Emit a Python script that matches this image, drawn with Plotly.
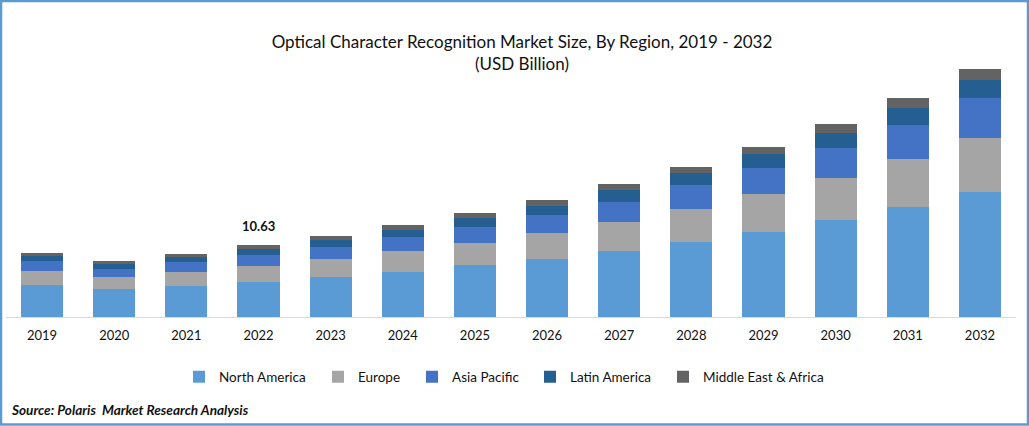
# plot.py - OCR market size stacked bars
import plotly.graph_objects as go

years = [str(y) for y in range(2019, 2033)]

north_america = [4.72, 4.13, 4.58, 5.17, 5.90, 6.64, 7.68, 8.56, 9.74, 11.07, 12.55, 14.32, 16.24, 18.45]
europe = [2.07, 1.77, 2.07, 2.36, 2.66, 3.10, 3.25, 3.84, 4.28, 4.87, 5.61, 6.20, 7.08, 7.97]
asia_pacific = [1.48, 1.18, 1.48, 1.62, 1.77, 2.07, 2.36, 2.66, 2.95, 3.54, 3.84, 4.43, 5.02, 5.90]
latin_america = [0.74, 0.74, 0.74, 0.89, 1.03, 1.03, 1.33, 1.33, 1.77, 1.77, 2.07, 2.21, 2.51, 2.66]
middle_east = [0.44, 0.44, 0.44, 0.59, 0.59, 0.74, 0.74, 0.89, 0.89, 0.89, 1.03, 1.33, 1.48, 1.62]

series = [
    ("North America", north_america, "#5B9BD5"),
    ("Europe", europe, "#A5A5A5"),
    ("Asia Pacific", asia_pacific, "#4472C4"),
    ("Latin America", latin_america, "#255E91"),
    ("Middle East & Africa", middle_east, "#636363"),
]

FONT = "Lato"
TEXT = "#111111"
W, H = 1029, 426
L, R, T, B = 6, 13, 20, 109
plot_w, plot_h = W - L - R, H - T - B

# pixel x where each legend label starts, legends are separate to keep the uneven spacing
legend_text_x = [219, 358, 452, 570, 703]


def px_x(px):
    return (px - L) / plot_w


def px_y(px):
    return (T + plot_h - px) / plot_h


fig = go.Figure()
legends = {}
for i, (name, values, color) in enumerate(series):
    key = "legend" if i == 0 else f"legend{i + 1}"
    fig.add_trace(go.Bar(x=years, y=values, name=name, legend=key,
                         marker=dict(color=color, line_width=0)))
    legends[key] = dict(x=px_x(legend_text_x[i] - 40), xanchor="left", y=px_y(377), yanchor="middle",
                        bgcolor="rgba(0,0,0,0)", font=dict(family=FONT, size=13.5, color=TEXT))

i_2022 = years.index("2022")
total_2022 = sum(s[1][i_2022] for s in series)
fig.add_annotation(x=i_2022, y=total_2022, yref="y", text="<b>10.63</b>", showarrow=False,
                   yanchor="bottom", yshift=9, font=dict(family=FONT, size=13, color=TEXT))
fig.add_annotation(x=px_x(11), y=px_y(410), xref="paper", yref="paper",
                   text="<b><i>Source: Polaris  Market Research Analysis</i></b>", showarrow=False,
                   xanchor="left", yanchor="middle", xshift=-2, font=dict(family=FONT, size=13.6, color=TEXT))

# blue frame round the whole picture
fig.add_shape(type="rect", xref="paper", yref="paper", layer="below",
              x0=px_x(1), x1=px_x(W - 1), y0=px_y(H - 1.5), y1=px_y(1),
              line=dict(color="#5B9BD5", width=2.5))

fig.update_layout(
    width=W, height=H,
    margin=dict(l=L, r=R, t=T, b=B, autoexpand=False),
    paper_bgcolor="white", plot_bgcolor="white",
    barmode="stack", bargap=0.417,
    font=dict(family=FONT, size=13, color=TEXT),
    title=dict(text="Optical Character Recognition Market Size, By Region, 2019 - 2032<br>(USD Billion)",
               x=px_x(522), xanchor="center", xref="paper", y=1 - 48 / H, yanchor="middle",
               font=dict(family=FONT, size=17, color=TEXT)),
    xaxis=dict(type="category", range=[-0.5, len(years) - 0.5], showline=True, linecolor="#D9D9D9",
               linewidth=1, ticks="", showgrid=False,
               tickfont=dict(family=FONT, size=13, color=TEXT), ticklabelstandoff=6),
    yaxis=dict(visible=False, range=[0, 43.8], showgrid=False),
    showlegend=True,
    **legends,
)

fig.write_html("out.html", config=dict(displayModeBar=False),
               post_script="document.body.style.margin = '0';")
